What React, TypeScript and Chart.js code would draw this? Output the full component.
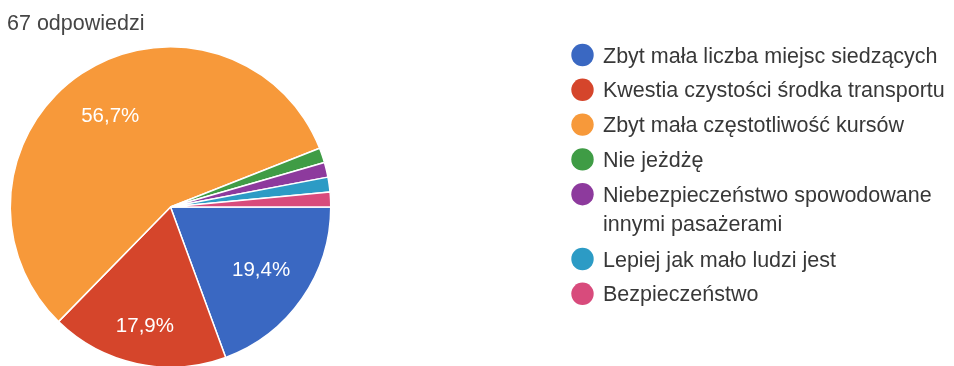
import React, { useEffect, useRef } from "react";
import { Chart, registerables } from "chart.js";

Chart.register(...registerables);

const responseCount = "67 odpowiedzi";
const answers = [
  "Zbyt mała liczba miejsc siedzących",
  "Kwestia czystości środka transportu",
  "Zbyt mała częstotliwość kursów",
  "Nie jeżdżę",
  "Niebezpieczeństwo spowodowane\ninnymi pasażerami",
  "Lepiej jak mało ludzi jest",
  "Bezpieczeństwo",
];
const votes = [13, 12, 38, 1, 1, 1, 1];
const sliceColors = [
  "#3a68c2",
  "#d5452b",
  "#f7993a",
  "#3f9c45",
  "#8d3a9d",
  "#2c9bc5",
  "#d84b7c",
];

const FONT = "'Liberation Sans', Arial, sans-serif";

// Percent labels inside the larger slices, plus the title and the legend column.
const overlayPlugin = {
  id: "formsOverlay",
  afterDatasetsDraw(chart: any) {
    const ctx = chart.ctx as CanvasRenderingContext2D;
    const meta = chart.getDatasetMeta(0);
    const data = chart.data.datasets[0].data as number[];
    const total = data.reduce((a, b) => a + b, 0);
    ctx.save();
    ctx.font = `20.5px ${FONT}`;
    ctx.fillStyle = "#ffffff";
    ctx.textAlign = "center";
    ctx.textBaseline = "middle";
    meta.data.forEach((arc: any, i: number) => {
      const share = data[i] / total;
      if (share < 0.05) return;
      const { x, y, startAngle, endAngle, outerRadius } = arc.getProps(
        ["x", "y", "startAngle", "endAngle", "outerRadius"],
        true
      );
      const mid = (startAngle + endAngle) / 2;
      const r = outerRadius * (0.68 + 0.09 * Math.max(0, Math.sin(mid)) ** 4);
      const label = (share * 100).toFixed(1).replace(".", ",") + "%";
      ctx.fillText(label, x + Math.cos(mid) * r, y + Math.sin(mid) * r);
    });
    ctx.restore();
  },
  afterDraw(chart: any) {
    const ctx = chart.ctx as CanvasRenderingContext2D;
    const labels = chart.data.labels as string[];
    const colors = chart.data.datasets[0].backgroundColor as string[];
    ctx.save();
    ctx.textBaseline = "alphabetic";
    ctx.textAlign = "left";
    ctx.font = `21.5px ${FONT}`;
    ctx.fillStyle = "#454545";
    ctx.fillText(responseCount, 7, 30);

    let y = 55;
    labels.forEach((label, i) => {
      ctx.beginPath();
      ctx.fillStyle = colors[i];
      ctx.arc(582.5, y, 11.2, 0, Math.PI * 2);
      ctx.fill();
      ctx.fillStyle = "#383838";
      const lines = label.split("\n");
      lines.forEach((line, j) => {
        ctx.fillText(line, 603, y + 7.5 + j * 29);
      });
      y += (lines.length - 1) * 30 + 34.8;
    });
    ctx.restore();
  },
};

export default function App() {
  const canvasRef = useRef<HTMLCanvasElement | null>(null);

  useEffect(() => {
    document.body.style.margin = "0";
    const chart = new Chart(canvasRef.current!, {
      type: "pie",
      data: {
        labels: answers,
        datasets: [
          {
            data: votes,
            backgroundColor: sliceColors,
            borderColor: "#ffffff",
            borderWidth: 1.5,
          },
        ],
      },
      options: {
        animation: false,
        responsive: true,
        maintainAspectRatio: false,
        rotation: 90,
        layout: {
          padding: { left: 9, top: 46, right: 622, bottom: 12 },
        },
        plugins: {
          legend: { display: false },
          tooltip: { enabled: false },
          title: { display: false },
        },
      },
      plugins: [overlayPlugin],
    });
    return () => chart.destroy();
  }, []);

  return (
    <div
      style={{
        position: "fixed",
        left: 0,
        top: 0,
        width: 954,
        height: 366,
        overflow: "hidden",
        background: "#ffffff",
      }}
    >
      <div style={{ position: "relative", width: 954, height: 380 }}>
        <canvas ref={canvasRef} />
      </div>
    </div>
  );
}
